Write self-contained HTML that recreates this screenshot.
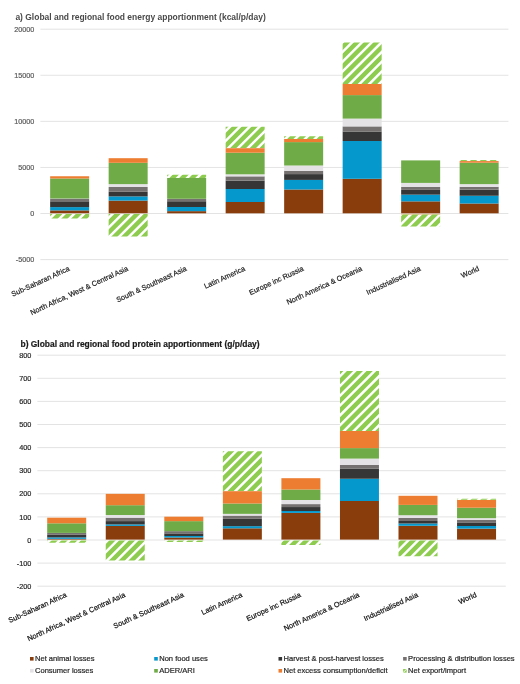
<!DOCTYPE html>
<html><head><meta charset="utf-8"><style>
html,body{margin:0;padding:0;background:#fff;width:520px;height:684px;overflow:hidden}
svg{display:block;will-change:transform;filter:blur(0.35px)}
text{font-family:"Liberation Sans",sans-serif;stroke-width:0.2px}
</style></head><body>
<svg width="520" height="684" viewBox="0 0 520 684" font-family="Liberation Sans, sans-serif" font-size="7.3">
<defs>
</defs>
<rect width="520" height="684" fill="#fff"/>
<text x="15.4" y="20" font-weight="bold" font-size="8.47" fill="#4a4a4a">a) Global and regional food energy apportionment (kcal/p/day)</text>
<line x1="40.4" x2="508.4" y1="29.20" y2="29.20" stroke="#d9d9d9" stroke-width="0.75"/>
<line x1="40.4" x2="508.4" y1="75.28" y2="75.28" stroke="#d9d9d9" stroke-width="0.75"/>
<line x1="40.4" x2="508.4" y1="121.36" y2="121.36" stroke="#d9d9d9" stroke-width="0.75"/>
<line x1="40.4" x2="508.4" y1="167.44" y2="167.44" stroke="#d9d9d9" stroke-width="0.75"/>
<line x1="40.4" x2="508.4" y1="213.52" y2="213.52" stroke="#d9d9d9" stroke-width="0.75"/>
<line x1="40.4" x2="508.4" y1="259.60" y2="259.60" stroke="#d9d9d9" stroke-width="0.75"/>
<text x="34.2" y="31.80" text-anchor="end" fill="#5a5a5a" stroke="#5a5a5a" stroke-width="0.05" font-size="7.2">20000</text>
<text x="34.2" y="77.88" text-anchor="end" fill="#5a5a5a" stroke="#5a5a5a" stroke-width="0.05" font-size="7.2">15000</text>
<text x="34.2" y="123.96" text-anchor="end" fill="#5a5a5a" stroke="#5a5a5a" stroke-width="0.05" font-size="7.2">10000</text>
<text x="34.2" y="170.04" text-anchor="end" fill="#5a5a5a" stroke="#5a5a5a" stroke-width="0.05" font-size="7.2">5000</text>
<text x="34.2" y="216.12" text-anchor="end" fill="#5a5a5a" stroke="#5a5a5a" stroke-width="0.05" font-size="7.2">0</text>
<text x="34.2" y="262.20" text-anchor="end" fill="#5a5a5a" stroke="#5a5a5a" stroke-width="0.05" font-size="7.2">-5000</text>
<rect x="50.15" y="210.40" width="39" height="2.90" fill="#8a3d0c"/>
<rect x="50.15" y="207.10" width="39" height="3.30" fill="#0598cc"/>
<rect x="50.15" y="201.30" width="39" height="5.80" fill="#363636"/>
<rect x="50.15" y="198.70" width="39" height="2.60" fill="#767171"/>
<rect x="50.15" y="198.50" width="39" height="0.20" fill="#e4e2e4"/>
<rect x="50.15" y="178.50" width="39" height="20.00" fill="#6fab46"/>
<rect x="50.15" y="176.25" width="39" height="2.25" fill="#ed7d31"/>
<clipPath id="c1"><rect x="50.15" y="213.90" width="39.00" height="4.50"/></clipPath><rect x="50.15" y="213.90" width="39.00" height="4.50" fill="#fff"/><path clip-path="url(#c1)" fill="#8dcc4e" d="M48.15,202.40 L91.15,159.40 L91.15,165.65 L48.15,208.65Z M48.15,212.20 L91.15,169.20 L91.15,175.45 L48.15,218.45Z M48.15,222.00 L91.15,179.00 L91.15,185.25 L48.15,228.25Z M48.15,231.80 L91.15,188.80 L91.15,195.05 L48.15,238.05Z M48.15,241.60 L91.15,198.60 L91.15,204.85 L48.15,247.85Z M48.15,251.40 L91.15,208.40 L91.15,214.65 L48.15,257.65Z M48.15,261.20 L91.15,218.20 L91.15,224.45 L48.15,267.45Z M48.15,271.00 L91.15,228.00 L91.15,234.25 L48.15,277.25Z"/>
<rect x="108.65" y="200.60" width="39" height="12.70" fill="#8a3d0c"/>
<rect x="108.65" y="196.40" width="39" height="4.20" fill="#0598cc"/>
<rect x="108.65" y="191.80" width="39" height="4.60" fill="#363636"/>
<rect x="108.65" y="187.00" width="39" height="4.80" fill="#767171"/>
<rect x="108.65" y="184.10" width="39" height="2.90" fill="#e4e2e4"/>
<rect x="108.65" y="162.80" width="39" height="21.30" fill="#6fab46"/>
<rect x="108.65" y="158.20" width="39" height="4.60" fill="#ed7d31"/>
<clipPath id="c2"><rect x="108.65" y="213.90" width="39.00" height="22.70"/></clipPath><rect x="108.65" y="213.90" width="39.00" height="22.70" fill="#fff"/><path clip-path="url(#c2)" fill="#8dcc4e" d="M106.65,202.05 L149.65,159.05 L149.65,165.30 L106.65,208.30Z M106.65,211.85 L149.65,168.85 L149.65,175.10 L106.65,218.10Z M106.65,221.65 L149.65,178.65 L149.65,184.90 L106.65,227.90Z M106.65,231.45 L149.65,188.45 L149.65,194.70 L106.65,237.70Z M106.65,241.25 L149.65,198.25 L149.65,204.50 L106.65,247.50Z M106.65,251.05 L149.65,208.05 L149.65,214.30 L106.65,257.30Z M106.65,260.85 L149.65,217.85 L149.65,224.10 L106.65,267.10Z M106.65,270.65 L149.65,227.65 L149.65,233.90 L106.65,276.90Z M106.65,280.45 L149.65,237.45 L149.65,243.70 L106.65,286.70Z M106.65,290.25 L149.65,247.25 L149.65,253.50 L106.65,296.50Z"/>
<rect x="167.15" y="211.15" width="39" height="2.15" fill="#8a3d0c"/>
<rect x="167.15" y="207.00" width="39" height="4.15" fill="#0598cc"/>
<rect x="167.15" y="201.25" width="39" height="5.75" fill="#363636"/>
<rect x="167.15" y="199.00" width="39" height="2.25" fill="#767171"/>
<rect x="167.15" y="198.80" width="39" height="0.20" fill="#e4e2e4"/>
<rect x="167.15" y="177.90" width="39" height="20.90" fill="#6fab46"/>
<clipPath id="c3"><rect x="167.15" y="174.80" width="39.00" height="3.10"/></clipPath><rect x="167.15" y="174.80" width="39.00" height="3.10" fill="#fff"/><path clip-path="url(#c3)" fill="#8dcc4e" d="M165.15,162.60 L208.15,119.60 L208.15,125.85 L165.15,168.85Z M165.15,172.40 L208.15,129.40 L208.15,135.65 L165.15,178.65Z M165.15,182.20 L208.15,139.20 L208.15,145.45 L165.15,188.45Z M165.15,192.00 L208.15,149.00 L208.15,155.25 L165.15,198.25Z M165.15,201.80 L208.15,158.80 L208.15,165.05 L165.15,208.05Z M165.15,211.60 L208.15,168.60 L208.15,174.85 L165.15,217.85Z M165.15,221.40 L208.15,178.40 L208.15,184.65 L165.15,227.65Z M165.15,231.20 L208.15,188.20 L208.15,194.45 L165.15,237.45Z"/>
<rect x="225.65" y="202.00" width="39" height="11.30" fill="#8a3d0c"/>
<rect x="225.65" y="189.00" width="39" height="13.00" fill="#0598cc"/>
<rect x="225.65" y="180.70" width="39" height="8.30" fill="#363636"/>
<rect x="225.65" y="176.35" width="39" height="4.35" fill="#767171"/>
<rect x="225.65" y="174.30" width="39" height="2.05" fill="#e4e2e4"/>
<rect x="225.65" y="152.70" width="39" height="21.60" fill="#6fab46"/>
<rect x="225.65" y="148.10" width="39" height="4.60" fill="#ed7d31"/>
<clipPath id="c4"><rect x="225.65" y="126.70" width="39.00" height="21.40"/></clipPath><rect x="225.65" y="126.70" width="39.00" height="21.40" fill="#fff"/><path clip-path="url(#c4)" fill="#8dcc4e" d="M223.65,115.30 L266.65,72.30 L266.65,78.55 L223.65,121.55Z M223.65,125.10 L266.65,82.10 L266.65,88.35 L223.65,131.35Z M223.65,134.90 L266.65,91.90 L266.65,98.15 L223.65,141.15Z M223.65,144.70 L266.65,101.70 L266.65,107.95 L223.65,150.95Z M223.65,154.50 L266.65,111.50 L266.65,117.75 L223.65,160.75Z M223.65,164.30 L266.65,121.30 L266.65,127.55 L223.65,170.55Z M223.65,174.10 L266.65,131.10 L266.65,137.35 L223.65,180.35Z M223.65,183.90 L266.65,140.90 L266.65,147.15 L223.65,190.15Z M223.65,193.70 L266.65,150.70 L266.65,156.95 L223.65,199.95Z M223.65,203.50 L266.65,160.50 L266.65,166.75 L223.65,209.75Z"/>
<rect x="284.15" y="189.50" width="39" height="23.80" fill="#8a3d0c"/>
<rect x="284.15" y="179.90" width="39" height="9.60" fill="#0598cc"/>
<rect x="284.15" y="174.10" width="39" height="5.80" fill="#363636"/>
<rect x="284.15" y="170.80" width="39" height="3.30" fill="#767171"/>
<rect x="284.15" y="165.50" width="39" height="5.30" fill="#e4e2e4"/>
<rect x="284.15" y="142.10" width="39" height="23.40" fill="#6fab46"/>
<rect x="284.15" y="138.90" width="39" height="3.20" fill="#ed7d31"/>
<clipPath id="c5"><rect x="284.15" y="136.35" width="39.00" height="2.55"/></clipPath><rect x="284.15" y="136.35" width="39.00" height="2.55" fill="#fff"/><path clip-path="url(#c5)" fill="#8dcc4e" d="M282.15,124.40 L325.15,81.40 L325.15,87.65 L282.15,130.65Z M282.15,134.20 L325.15,91.20 L325.15,97.45 L282.15,140.45Z M282.15,144.00 L325.15,101.00 L325.15,107.25 L282.15,150.25Z M282.15,153.80 L325.15,110.80 L325.15,117.05 L282.15,160.05Z M282.15,163.60 L325.15,120.60 L325.15,126.85 L282.15,169.85Z M282.15,173.40 L325.15,130.40 L325.15,136.65 L282.15,179.65Z M282.15,183.20 L325.15,140.20 L325.15,146.45 L282.15,189.45Z M282.15,193.00 L325.15,150.00 L325.15,156.25 L282.15,199.25Z"/>
<rect x="342.65" y="178.80" width="39" height="34.50" fill="#8a3d0c"/>
<rect x="342.65" y="141.00" width="39" height="37.80" fill="#0598cc"/>
<rect x="342.65" y="131.50" width="39" height="9.50" fill="#363636"/>
<rect x="342.65" y="126.40" width="39" height="5.10" fill="#767171"/>
<rect x="342.65" y="118.60" width="39" height="7.80" fill="#e4e2e4"/>
<rect x="342.65" y="95.10" width="39" height="23.50" fill="#6fab46"/>
<rect x="342.65" y="84.00" width="39" height="11.10" fill="#ed7d31"/>
<clipPath id="c6"><rect x="342.65" y="42.60" width="39.00" height="41.40"/></clipPath><rect x="342.65" y="42.60" width="39.00" height="41.40" fill="#fff"/><path clip-path="url(#c6)" fill="#8dcc4e" d="M340.65,26.20 L383.65,-16.80 L383.65,-10.55 L340.65,32.45Z M340.65,36.00 L383.65,-7.00 L383.65,-0.75 L340.65,42.25Z M340.65,45.80 L383.65,2.80 L383.65,9.05 L340.65,52.05Z M340.65,55.60 L383.65,12.60 L383.65,18.85 L340.65,61.85Z M340.65,65.40 L383.65,22.40 L383.65,28.65 L340.65,71.65Z M340.65,75.20 L383.65,32.20 L383.65,38.45 L340.65,81.45Z M340.65,85.00 L383.65,42.00 L383.65,48.25 L340.65,91.25Z M340.65,94.80 L383.65,51.80 L383.65,58.05 L340.65,101.05Z M340.65,104.60 L383.65,61.60 L383.65,67.85 L340.65,110.85Z M340.65,114.40 L383.65,71.40 L383.65,77.65 L340.65,120.65Z M340.65,124.20 L383.65,81.20 L383.65,87.45 L340.65,130.45Z M340.65,134.00 L383.65,91.00 L383.65,97.25 L340.65,140.25Z M340.65,143.80 L383.65,100.80 L383.65,107.05 L340.65,150.05Z"/>
<rect x="401.15" y="201.35" width="39" height="11.95" fill="#8a3d0c"/>
<rect x="401.15" y="194.65" width="39" height="6.70" fill="#0598cc"/>
<rect x="401.15" y="189.90" width="39" height="4.75" fill="#363636"/>
<rect x="401.15" y="187.00" width="39" height="2.90" fill="#767171"/>
<rect x="401.15" y="182.90" width="39" height="4.10" fill="#e4e2e4"/>
<rect x="401.15" y="160.40" width="39" height="22.50" fill="#6fab46"/>
<rect x="401.15" y="213.90" width="39" height="0.70" fill="#ed7d31"/>
<clipPath id="c7"><rect x="401.15" y="214.60" width="39.00" height="11.90"/></clipPath><rect x="401.15" y="214.60" width="39.00" height="11.90" fill="#fff"/><path clip-path="url(#c7)" fill="#8dcc4e" d="M399.15,198.40 L442.15,155.40 L442.15,161.65 L399.15,204.65Z M399.15,208.20 L442.15,165.20 L442.15,171.45 L399.15,214.45Z M399.15,218.00 L442.15,175.00 L442.15,181.25 L399.15,224.25Z M399.15,227.80 L442.15,184.80 L442.15,191.05 L399.15,234.05Z M399.15,237.60 L442.15,194.60 L442.15,200.85 L399.15,243.85Z M399.15,247.40 L442.15,204.40 L442.15,210.65 L399.15,253.65Z M399.15,257.20 L442.15,214.20 L442.15,220.45 L399.15,263.45Z M399.15,267.00 L442.15,224.00 L442.15,230.25 L399.15,273.25Z M399.15,276.80 L442.15,233.80 L442.15,240.05 L399.15,283.05Z M399.15,286.60 L442.15,243.60 L442.15,249.85 L399.15,292.85Z"/>
<rect x="459.65" y="203.50" width="39" height="9.80" fill="#8a3d0c"/>
<rect x="459.65" y="195.75" width="39" height="7.75" fill="#0598cc"/>
<rect x="459.65" y="189.70" width="39" height="6.05" fill="#363636"/>
<rect x="459.65" y="186.80" width="39" height="2.90" fill="#767171"/>
<rect x="459.65" y="184.10" width="39" height="2.70" fill="#e4e2e4"/>
<rect x="459.65" y="162.70" width="39" height="21.40" fill="#6fab46"/>
<rect x="459.65" y="161.05" width="39" height="1.65" fill="#ed7d31"/>
<clipPath id="c8"><rect x="459.65" y="160.10" width="39.00" height="0.95"/></clipPath><rect x="459.65" y="160.10" width="39.00" height="0.95" fill="#fff"/><path clip-path="url(#c8)" fill="#8dcc4e" d="M457.65,143.90 L500.65,100.90 L500.65,107.15 L457.65,150.15Z M457.65,153.70 L500.65,110.70 L500.65,116.95 L457.65,159.95Z M457.65,163.50 L500.65,120.50 L500.65,126.75 L457.65,169.75Z M457.65,173.30 L500.65,130.30 L500.65,136.55 L457.65,179.55Z M457.65,183.10 L500.65,140.10 L500.65,146.35 L457.65,189.35Z M457.65,192.90 L500.65,149.90 L500.65,156.15 L457.65,199.15Z M457.65,202.70 L500.65,159.70 L500.65,165.95 L457.65,208.95Z M457.65,212.50 L500.65,169.50 L500.65,175.75 L457.65,218.75Z"/>
<text transform="translate(70.25,270.30) rotate(-24.8)" text-anchor="end" fill="#222222" stroke="#222222">Sub-Saharan Africa</text>
<text transform="translate(128.75,270.30) rotate(-24.8)" text-anchor="end" fill="#222222" stroke="#222222">North Africa, West &amp; Central Asia</text>
<text transform="translate(187.25,270.30) rotate(-24.8)" text-anchor="end" fill="#222222" stroke="#222222">South &amp; Southeast Asia</text>
<text transform="translate(245.75,270.30) rotate(-24.8)" text-anchor="end" fill="#222222" stroke="#222222">Latin America</text>
<text transform="translate(304.25,270.30) rotate(-24.8)" text-anchor="end" fill="#222222" stroke="#222222">Europe inc Russia</text>
<text transform="translate(362.75,270.30) rotate(-24.8)" text-anchor="end" fill="#222222" stroke="#222222">North America &amp; Oceania</text>
<text transform="translate(421.25,270.30) rotate(-24.8)" text-anchor="end" fill="#222222" stroke="#222222">Industrialised Asia</text>
<text transform="translate(479.75,270.30) rotate(-24.8)" text-anchor="end" fill="#222222" stroke="#222222">World</text>
<text x="20.5" y="347" font-weight="bold" font-size="8.43" fill="#1a1a1a" stroke="#1a1a1a" stroke-width="0.1">b) Global and regional food protein apportionment (g/p/day)</text>
<line x1="37.4" x2="505.8" y1="355.20" y2="355.20" stroke="#d9d9d9" stroke-width="0.75"/>
<line x1="37.4" x2="505.8" y1="378.30" y2="378.30" stroke="#d9d9d9" stroke-width="0.75"/>
<line x1="37.4" x2="505.8" y1="401.40" y2="401.40" stroke="#d9d9d9" stroke-width="0.75"/>
<line x1="37.4" x2="505.8" y1="424.50" y2="424.50" stroke="#d9d9d9" stroke-width="0.75"/>
<line x1="37.4" x2="505.8" y1="447.60" y2="447.60" stroke="#d9d9d9" stroke-width="0.75"/>
<line x1="37.4" x2="505.8" y1="470.70" y2="470.70" stroke="#d9d9d9" stroke-width="0.75"/>
<line x1="37.4" x2="505.8" y1="493.80" y2="493.80" stroke="#d9d9d9" stroke-width="0.75"/>
<line x1="37.4" x2="505.8" y1="516.90" y2="516.90" stroke="#d9d9d9" stroke-width="0.75"/>
<line x1="37.4" x2="505.8" y1="540.00" y2="540.00" stroke="#d9d9d9" stroke-width="0.75"/>
<line x1="37.4" x2="505.8" y1="563.10" y2="563.10" stroke="#d9d9d9" stroke-width="0.75"/>
<line x1="37.4" x2="505.8" y1="586.20" y2="586.20" stroke="#d9d9d9" stroke-width="0.75"/>
<text x="31.4" y="357.80" text-anchor="end" fill="#2a2a2a" stroke="#2a2a2a" stroke-width="0.2" font-size="7.3">800</text>
<text x="31.4" y="380.90" text-anchor="end" fill="#2a2a2a" stroke="#2a2a2a" stroke-width="0.2" font-size="7.3">700</text>
<text x="31.4" y="404.00" text-anchor="end" fill="#2a2a2a" stroke="#2a2a2a" stroke-width="0.2" font-size="7.3">600</text>
<text x="31.4" y="427.10" text-anchor="end" fill="#2a2a2a" stroke="#2a2a2a" stroke-width="0.2" font-size="7.3">500</text>
<text x="31.4" y="450.20" text-anchor="end" fill="#2a2a2a" stroke="#2a2a2a" stroke-width="0.2" font-size="7.3">400</text>
<text x="31.4" y="473.30" text-anchor="end" fill="#2a2a2a" stroke="#2a2a2a" stroke-width="0.2" font-size="7.3">300</text>
<text x="31.4" y="496.40" text-anchor="end" fill="#2a2a2a" stroke="#2a2a2a" stroke-width="0.2" font-size="7.3">200</text>
<text x="31.4" y="519.50" text-anchor="end" fill="#2a2a2a" stroke="#2a2a2a" stroke-width="0.2" font-size="7.3">100</text>
<text x="31.4" y="542.60" text-anchor="end" fill="#2a2a2a" stroke="#2a2a2a" stroke-width="0.2" font-size="7.3">0</text>
<text x="31.4" y="565.70" text-anchor="end" fill="#2a2a2a" stroke="#2a2a2a" stroke-width="0.2" font-size="7.3">-100</text>
<text x="31.4" y="588.80" text-anchor="end" fill="#2a2a2a" stroke="#2a2a2a" stroke-width="0.2" font-size="7.3">-200</text>
<rect x="47.20" y="538.85" width="39" height="0.75" fill="#8a3d0c"/>
<rect x="47.20" y="537.40" width="39" height="1.45" fill="#0598cc"/>
<rect x="47.20" y="534.80" width="39" height="2.60" fill="#363636"/>
<rect x="47.20" y="532.90" width="39" height="1.90" fill="#767171"/>
<rect x="47.20" y="523.30" width="39" height="9.60" fill="#6fab46"/>
<rect x="47.20" y="517.70" width="39" height="5.60" fill="#ed7d31"/>
<clipPath id="c9"><rect x="47.20" y="540.60" width="39.00" height="2.10"/></clipPath><rect x="47.20" y="540.60" width="39.00" height="2.10" fill="#fff"/><path clip-path="url(#c9)" fill="#8dcc4e" d="M45.20,527.15 L88.20,484.15 L88.20,490.40 L45.20,533.40Z M45.20,536.95 L88.20,493.95 L88.20,500.20 L45.20,543.20Z M45.20,546.75 L88.20,503.75 L88.20,510.00 L45.20,553.00Z M45.20,556.55 L88.20,513.55 L88.20,519.80 L45.20,562.80Z M45.20,566.35 L88.20,523.35 L88.20,529.60 L45.20,572.60Z M45.20,576.15 L88.20,533.15 L88.20,539.40 L45.20,582.40Z M45.20,585.95 L88.20,542.95 L88.20,549.20 L45.20,592.20Z M45.20,595.75 L88.20,552.75 L88.20,559.00 L45.20,602.00Z"/>
<rect x="105.75" y="525.90" width="39" height="13.70" fill="#8a3d0c"/>
<rect x="105.75" y="524.40" width="39" height="1.50" fill="#0598cc"/>
<rect x="105.75" y="521.10" width="39" height="3.30" fill="#363636"/>
<rect x="105.75" y="517.70" width="39" height="3.40" fill="#767171"/>
<rect x="105.75" y="515.00" width="39" height="2.70" fill="#e4e2e4"/>
<rect x="105.75" y="505.20" width="39" height="9.80" fill="#6fab46"/>
<rect x="105.75" y="493.85" width="39" height="11.35" fill="#ed7d31"/>
<clipPath id="c10"><rect x="105.75" y="540.60" width="39.00" height="20.00"/></clipPath><rect x="105.75" y="540.60" width="39.00" height="20.00" fill="#fff"/><path clip-path="url(#c10)" fill="#8dcc4e" d="M103.75,526.40 L146.75,483.40 L146.75,489.65 L103.75,532.65Z M103.75,536.20 L146.75,493.20 L146.75,499.45 L103.75,542.45Z M103.75,546.00 L146.75,503.00 L146.75,509.25 L103.75,552.25Z M103.75,555.80 L146.75,512.80 L146.75,519.05 L103.75,562.05Z M103.75,565.60 L146.75,522.60 L146.75,528.85 L103.75,571.85Z M103.75,575.40 L146.75,532.40 L146.75,538.65 L103.75,581.65Z M103.75,585.20 L146.75,542.20 L146.75,548.45 L103.75,591.45Z M103.75,595.00 L146.75,552.00 L146.75,558.25 L103.75,601.25Z M103.75,604.80 L146.75,561.80 L146.75,568.05 L103.75,611.05Z M103.75,614.60 L146.75,571.60 L146.75,577.85 L103.75,620.85Z"/>
<rect x="164.30" y="537.50" width="39" height="2.10" fill="#8a3d0c"/>
<rect x="164.30" y="536.00" width="39" height="1.50" fill="#0598cc"/>
<rect x="164.30" y="533.40" width="39" height="2.60" fill="#363636"/>
<rect x="164.30" y="531.15" width="39" height="2.25" fill="#767171"/>
<rect x="164.30" y="521.15" width="39" height="10.00" fill="#6fab46"/>
<rect x="164.30" y="516.70" width="39" height="4.45" fill="#ed7d31"/>
<clipPath id="c11"><rect x="164.30" y="540.60" width="39.00" height="1.40"/></clipPath><rect x="164.30" y="540.60" width="39.00" height="1.40" fill="#fff"/><path clip-path="url(#c11)" fill="#8dcc4e" d="M162.30,526.55 L205.30,483.55 L205.30,489.80 L162.30,532.80Z M162.30,536.35 L205.30,493.35 L205.30,499.60 L162.30,542.60Z M162.30,546.15 L205.30,503.15 L205.30,509.40 L162.30,552.40Z M162.30,555.95 L205.30,512.95 L205.30,519.20 L162.30,562.20Z M162.30,565.75 L205.30,522.75 L205.30,529.00 L162.30,572.00Z M162.30,575.55 L205.30,532.55 L205.30,538.80 L162.30,581.80Z M162.30,585.35 L205.30,542.35 L205.30,548.60 L162.30,591.60Z M162.30,595.15 L205.30,552.15 L205.30,558.40 L162.30,601.40Z"/>
<rect x="222.85" y="528.30" width="39" height="11.30" fill="#8a3d0c"/>
<rect x="222.85" y="526.15" width="39" height="2.15" fill="#0598cc"/>
<rect x="222.85" y="518.85" width="39" height="7.30" fill="#363636"/>
<rect x="222.85" y="515.60" width="39" height="3.25" fill="#767171"/>
<rect x="222.85" y="513.85" width="39" height="1.75" fill="#e4e2e4"/>
<rect x="222.85" y="503.50" width="39" height="10.35" fill="#6fab46"/>
<rect x="222.85" y="491.10" width="39" height="12.40" fill="#ed7d31"/>
<clipPath id="c12"><rect x="222.85" y="451.35" width="39.00" height="39.75"/></clipPath><rect x="222.85" y="451.35" width="39.00" height="39.75" fill="#fff"/><path clip-path="url(#c12)" fill="#8dcc4e" d="M220.85,438.80 L263.85,395.80 L263.85,402.05 L220.85,445.05Z M220.85,448.60 L263.85,405.60 L263.85,411.85 L220.85,454.85Z M220.85,458.40 L263.85,415.40 L263.85,421.65 L220.85,464.65Z M220.85,468.20 L263.85,425.20 L263.85,431.45 L220.85,474.45Z M220.85,478.00 L263.85,435.00 L263.85,441.25 L220.85,484.25Z M220.85,487.80 L263.85,444.80 L263.85,451.05 L220.85,494.05Z M220.85,497.60 L263.85,454.60 L263.85,460.85 L220.85,503.85Z M220.85,507.40 L263.85,464.40 L263.85,470.65 L220.85,513.65Z M220.85,517.20 L263.85,474.20 L263.85,480.45 L220.85,523.45Z M220.85,527.00 L263.85,484.00 L263.85,490.25 L220.85,533.25Z M220.85,536.80 L263.85,493.80 L263.85,500.05 L220.85,543.05Z M220.85,546.60 L263.85,503.60 L263.85,509.85 L220.85,552.85Z"/>
<rect x="281.40" y="512.90" width="39" height="26.70" fill="#8a3d0c"/>
<rect x="281.40" y="511.00" width="39" height="1.90" fill="#0598cc"/>
<rect x="281.40" y="507.05" width="39" height="3.95" fill="#363636"/>
<rect x="281.40" y="504.10" width="39" height="2.95" fill="#767171"/>
<rect x="281.40" y="500.00" width="39" height="4.10" fill="#e4e2e4"/>
<rect x="281.40" y="489.50" width="39" height="10.50" fill="#6fab46"/>
<rect x="281.40" y="478.20" width="39" height="11.30" fill="#ed7d31"/>
<clipPath id="c13"><rect x="281.40" y="540.60" width="39.00" height="4.30"/></clipPath><rect x="281.40" y="540.60" width="39.00" height="4.30" fill="#fff"/><path clip-path="url(#c13)" fill="#8dcc4e" d="M279.40,525.25 L322.40,482.25 L322.40,488.50 L279.40,531.50Z M279.40,535.05 L322.40,492.05 L322.40,498.30 L279.40,541.30Z M279.40,544.85 L322.40,501.85 L322.40,508.10 L279.40,551.10Z M279.40,554.65 L322.40,511.65 L322.40,517.90 L279.40,560.90Z M279.40,564.45 L322.40,521.45 L322.40,527.70 L279.40,570.70Z M279.40,574.25 L322.40,531.25 L322.40,537.50 L279.40,580.50Z M279.40,584.05 L322.40,541.05 L322.40,547.30 L279.40,590.30Z M279.40,593.85 L322.40,550.85 L322.40,557.10 L279.40,600.10Z M279.40,603.65 L322.40,560.65 L322.40,566.90 L279.40,609.90Z"/>
<rect x="339.95" y="501.00" width="39" height="38.60" fill="#8a3d0c"/>
<rect x="339.95" y="478.75" width="39" height="22.25" fill="#0598cc"/>
<rect x="339.95" y="468.50" width="39" height="10.25" fill="#363636"/>
<rect x="339.95" y="465.00" width="39" height="3.50" fill="#767171"/>
<rect x="339.95" y="458.60" width="39" height="6.40" fill="#e4e2e4"/>
<rect x="339.95" y="448.10" width="39" height="10.50" fill="#6fab46"/>
<rect x="339.95" y="430.90" width="39" height="17.20" fill="#ed7d31"/>
<clipPath id="c14"><rect x="339.95" y="371.10" width="39.00" height="59.80"/></clipPath><rect x="339.95" y="371.10" width="39.00" height="59.80" fill="#fff"/><path clip-path="url(#c14)" fill="#8dcc4e" d="M337.95,360.40 L380.95,317.40 L380.95,323.65 L337.95,366.65Z M337.95,370.20 L380.95,327.20 L380.95,333.45 L337.95,376.45Z M337.95,380.00 L380.95,337.00 L380.95,343.25 L337.95,386.25Z M337.95,389.80 L380.95,346.80 L380.95,353.05 L337.95,396.05Z M337.95,399.60 L380.95,356.60 L380.95,362.85 L337.95,405.85Z M337.95,409.40 L380.95,366.40 L380.95,372.65 L337.95,415.65Z M337.95,419.20 L380.95,376.20 L380.95,382.45 L337.95,425.45Z M337.95,429.00 L380.95,386.00 L380.95,392.25 L337.95,435.25Z M337.95,438.80 L380.95,395.80 L380.95,402.05 L337.95,445.05Z M337.95,448.60 L380.95,405.60 L380.95,411.85 L337.95,454.85Z M337.95,458.40 L380.95,415.40 L380.95,421.65 L337.95,464.65Z M337.95,468.20 L380.95,425.20 L380.95,431.45 L337.95,474.45Z M337.95,478.00 L380.95,435.00 L380.95,441.25 L337.95,484.25Z M337.95,487.80 L380.95,444.80 L380.95,451.05 L337.95,494.05Z"/>
<rect x="398.50" y="525.80" width="39" height="13.80" fill="#8a3d0c"/>
<rect x="398.50" y="523.50" width="39" height="2.30" fill="#0598cc"/>
<rect x="398.50" y="521.00" width="39" height="2.50" fill="#363636"/>
<rect x="398.50" y="517.90" width="39" height="3.10" fill="#767171"/>
<rect x="398.50" y="515.20" width="39" height="2.70" fill="#e4e2e4"/>
<rect x="398.50" y="504.90" width="39" height="10.30" fill="#6fab46"/>
<rect x="398.50" y="495.80" width="39" height="9.10" fill="#ed7d31"/>
<clipPath id="c15"><rect x="398.50" y="540.60" width="39.00" height="15.65"/></clipPath><rect x="398.50" y="540.60" width="39.00" height="15.65" fill="#fff"/><path clip-path="url(#c15)" fill="#8dcc4e" d="M396.50,524.55 L439.50,481.55 L439.50,487.80 L396.50,530.80Z M396.50,534.35 L439.50,491.35 L439.50,497.60 L396.50,540.60Z M396.50,544.15 L439.50,501.15 L439.50,507.40 L396.50,550.40Z M396.50,553.95 L439.50,510.95 L439.50,517.20 L396.50,560.20Z M396.50,563.75 L439.50,520.75 L439.50,527.00 L396.50,570.00Z M396.50,573.55 L439.50,530.55 L439.50,536.80 L396.50,579.80Z M396.50,583.35 L439.50,540.35 L439.50,546.60 L396.50,589.60Z M396.50,593.15 L439.50,550.15 L439.50,556.40 L396.50,599.40Z M396.50,602.95 L439.50,559.95 L439.50,566.20 L396.50,609.20Z M396.50,612.75 L439.50,569.75 L439.50,576.00 L396.50,619.00Z"/>
<rect x="457.05" y="528.65" width="39" height="10.95" fill="#8a3d0c"/>
<rect x="457.05" y="526.00" width="39" height="2.65" fill="#0598cc"/>
<rect x="457.05" y="522.40" width="39" height="3.60" fill="#363636"/>
<rect x="457.05" y="520.00" width="39" height="2.40" fill="#767171"/>
<rect x="457.05" y="518.10" width="39" height="1.90" fill="#e4e2e4"/>
<rect x="457.05" y="507.70" width="39" height="10.40" fill="#6fab46"/>
<rect x="457.05" y="499.80" width="39" height="7.90" fill="#ed7d31"/>
<clipPath id="c16"><rect x="457.05" y="498.85" width="39.00" height="0.95"/></clipPath><rect x="457.05" y="498.85" width="39.00" height="0.95" fill="#fff"/><path clip-path="url(#c16)" fill="#8dcc4e" d="M455.05,485.90 L498.05,442.90 L498.05,449.15 L455.05,492.15Z M455.05,495.70 L498.05,452.70 L498.05,458.95 L455.05,501.95Z M455.05,505.50 L498.05,462.50 L498.05,468.75 L455.05,511.75Z M455.05,515.30 L498.05,472.30 L498.05,478.55 L455.05,521.55Z M455.05,525.10 L498.05,482.10 L498.05,488.35 L455.05,531.35Z M455.05,534.90 L498.05,491.90 L498.05,498.15 L455.05,541.15Z M455.05,544.70 L498.05,501.70 L498.05,507.95 L455.05,550.95Z M455.05,554.50 L498.05,511.50 L498.05,517.75 L455.05,560.75Z"/>
<text transform="translate(67.30,596.50) rotate(-24.8)" text-anchor="end" fill="#111111" stroke="#111111">Sub-Saharan Africa</text>
<text transform="translate(125.85,596.50) rotate(-24.8)" text-anchor="end" fill="#111111" stroke="#111111">North Africa, West &amp; Central Asia</text>
<text transform="translate(184.40,596.50) rotate(-24.8)" text-anchor="end" fill="#111111" stroke="#111111">South &amp; Southeast Asia</text>
<text transform="translate(242.95,596.50) rotate(-24.8)" text-anchor="end" fill="#111111" stroke="#111111">Latin America</text>
<text transform="translate(301.50,596.50) rotate(-24.8)" text-anchor="end" fill="#111111" stroke="#111111">Europe inc Russia</text>
<text transform="translate(360.05,596.50) rotate(-24.8)" text-anchor="end" fill="#111111" stroke="#111111">North America &amp; Oceania</text>
<text transform="translate(418.60,596.50) rotate(-24.8)" text-anchor="end" fill="#111111" stroke="#111111">Industrialised Asia</text>
<text transform="translate(477.15,596.50) rotate(-24.8)" text-anchor="end" fill="#111111" stroke="#111111">World</text>
<rect x="30.0" y="657.0" width="3.6" height="3.6" fill="#8a3d0c"/>
<text x="35.00" y="660.85" fill="#262626" stroke="#262626" font-size="7.55">Net animal losses</text>
<rect x="154.2" y="657.0" width="3.6" height="3.6" fill="#0598cc"/>
<text x="159.20" y="660.85" fill="#262626" stroke="#262626" font-size="7.55">Non food uses</text>
<rect x="278.5" y="657.0" width="3.6" height="3.6" fill="#363636"/>
<text x="283.50" y="660.85" fill="#262626" stroke="#262626" font-size="7.55">Harvest &amp; post-harvest losses</text>
<rect x="403.1" y="657.0" width="3.6" height="3.6" fill="#767171"/>
<text x="408.10" y="660.85" fill="#262626" stroke="#262626" font-size="7.55">Processing &amp; distribution losses</text>
<rect x="30.0" y="669.0" width="3.6" height="3.6" fill="#e4e2e4"/>
<text x="35.00" y="672.85" fill="#262626" stroke="#262626" font-size="7.55">Consumer losses</text>
<rect x="154.2" y="669.0" width="3.6" height="3.6" fill="#6fab46"/>
<text x="159.20" y="672.85" fill="#262626" stroke="#262626" font-size="7.55">ADER/ARI</text>
<rect x="278.5" y="669.0" width="3.6" height="3.6" fill="#ed7d31"/>
<text x="283.50" y="672.85" fill="#262626" stroke="#262626" font-size="7.55">Net excess consumption/deficit</text>
<rect x="403.1" y="669.0" width="3.6" height="3.6" fill="#8dcc4e"/><line x1="403.1" y1="672.6" x2="406.70000000000005" y2="669.0" stroke="#fff" stroke-width="1"/>
<text x="408.10" y="672.85" fill="#262626" stroke="#262626" font-size="7.55">Net export/import</text>
</svg>
</body></html>
